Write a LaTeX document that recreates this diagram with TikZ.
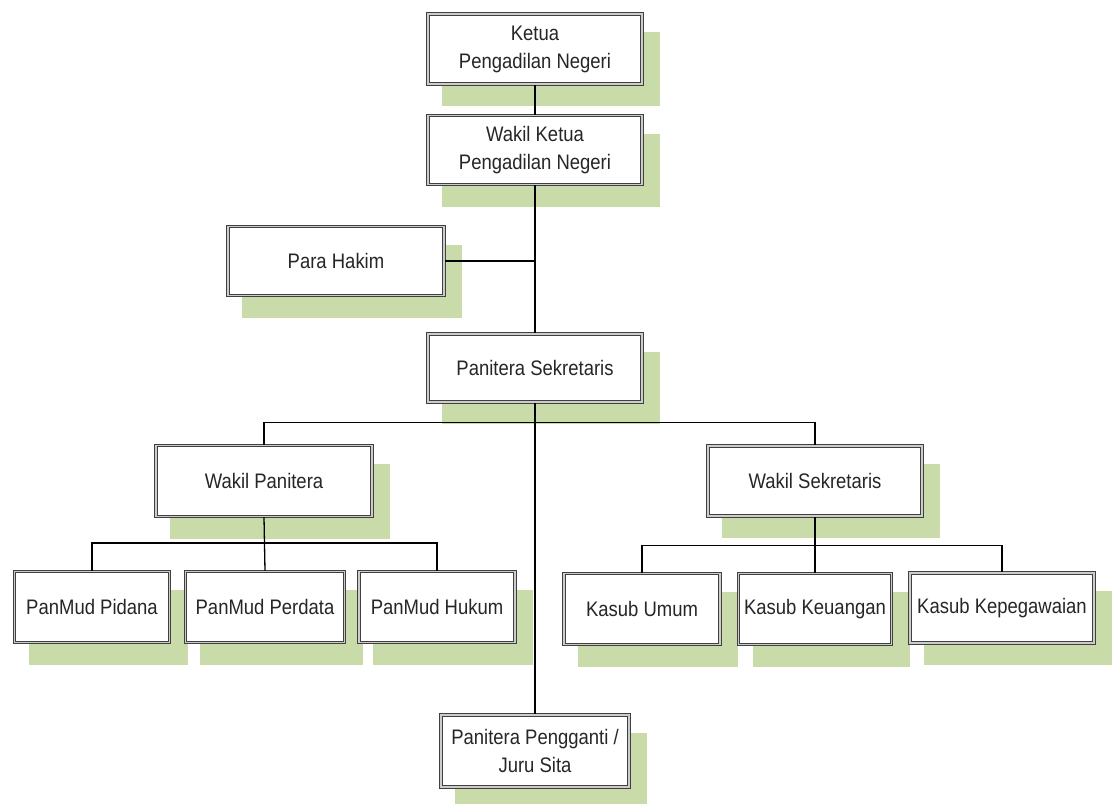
\documentclass[tikz,border=0pt]{standalone}
\usepackage{fontspec}
\setmainfont{Liberation Sans}[FakeStretch=0.88]
\usetikzlibrary{shadows,calc}
\definecolor{shadowgreen}{RGB}{201,219,168}
\tikzset{
  orgbox/.style={draw=black!75, double=black!20, line width=1.2pt, double distance=1.4pt,
    fill=white, align=center, inner sep=2pt, text=black!85,
    font=\fontsize{21}{28}\selectfont,
    drop shadow={shadow xshift=16pt, shadow yshift=-20pt, fill=shadowgreen,
      draw=shadowgreen, line width=4pt, opacity=1}},
  mainline/.style={line width=2.2pt, black},
  branch/.style={line width=1.3pt, black},
}
\begin{document}
\begin{tikzpicture}[x=1pt,y=-1pt]
\useasboundingbox (0,0) rectangle (1116,803);
% top chain
\node[orgbox, minimum width=214pt, minimum height=70pt] (ketua) at (535,49) {Ketua\\Pengadilan Negeri};
\node[orgbox, minimum width=214pt, minimum height=69pt] (wketua) at (535,150) {Wakil Ketua\\Pengadilan Negeri};
\node[orgbox, minimum width=216pt, minimum height=69pt] (hakim) at (336,261) {Para Hakim};
\node[orgbox, minimum width=214pt, minimum height=68pt] (ps) at (535,368) {Panitera Sekretaris};
% second level
\node[orgbox, minimum width=216pt, minimum height=71pt] (wp) at (264,481) {Wakil Panitera};
\node[orgbox, minimum width=214pt, minimum height=70pt] (ws) at (815,481) {Wakil Sekretaris};
% panmud
\node[orgbox, minimum width=155pt, minimum height=71pt] (pid) at (92,607) {PanMud Pidana};
\node[orgbox, minimum width=159pt, minimum height=71pt] (per) at (265,607) {PanMud Perdata};
\node[orgbox, minimum width=156pt, minimum height=71pt] (huk) at (437,607) {PanMud Hukum};
% kasub
\node[orgbox, minimum width=156pt, minimum height=71pt] (umum) at (642,609) {Kasub Umum};
\node[orgbox, minimum width=153pt, minimum height=71pt] (keu) at (815,609) {Kasub Keuangan};
\node[orgbox, minimum width=184pt, minimum height=70pt] (peg) at (1002,608) {Kasub Kepegawaian};
% pengganti
\node[orgbox, minimum width=188pt, minimum height=72pt] (pp) at (535,751) {Panitera Pengganti /\\Juru Sita};
% connectors
\draw[mainline] (ketua.south) -- (wketua.north);
\draw[mainline] (wketua.south) -- (ps.north);
\draw[mainline] (hakim.east) -- (hakim.east -| wketua.south);
\draw[mainline] (ps.south) -- (pp.north);
\coordinate (j1) at ($(ps.south)+(0,20)$);
\draw[branch] (j1) -| (wp.north);
\draw[branch] (j1) -| (ws.north);
\coordinate (j2) at ($(wp.south)+(0,26)$);
\draw[branch] (wp.south) -- (per.north);
\draw[branch] (j2) -| (pid.north);
\draw[branch] (j2) -| (huk.north);
\coordinate (j3) at ($(ws.south)+(0,29)$);
\draw[branch] (ws.south) -- (keu.north);
\draw[branch] (j3) -| (umum.north);
\draw[branch] (j3) -| (peg.north);
\end{tikzpicture}
\end{document}
